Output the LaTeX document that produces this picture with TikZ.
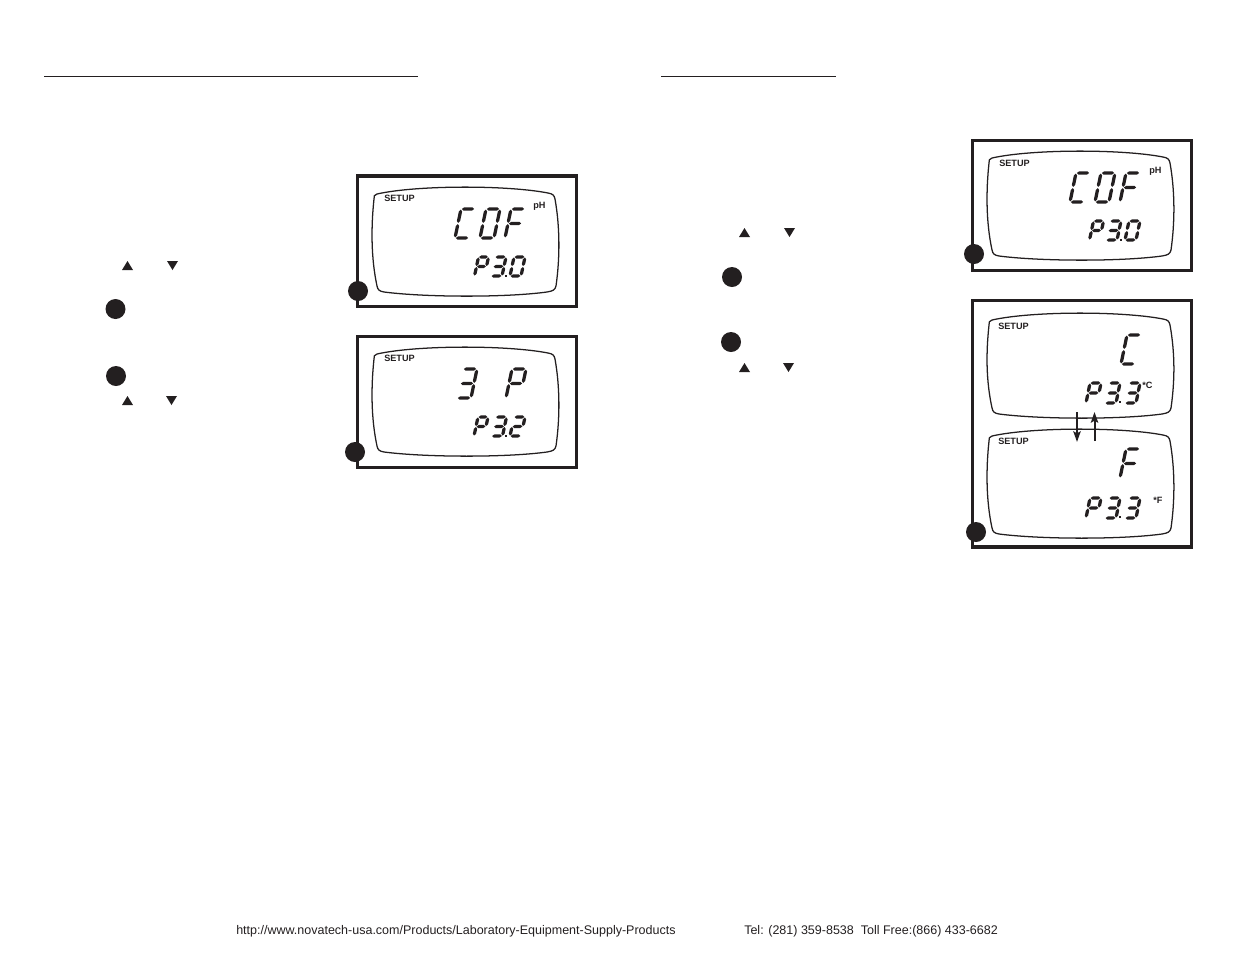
\documentclass[tikz,border=0pt]{standalone}
\usepackage{fontspec}
\setmainfont{Liberation Sans}
\definecolor{ink}{HTML}{231F20}
\newcommand{\hseg}[3]{\fill[lcdseg] (#1,#3) -- (#1+.6*\tx,#3+\ty/2) -- (#2-.6*\tx,#3+\ty/2) -- (#2,#3) -- (#2-.6*\tx,#3-\ty/2) -- (#1+.6*\tx,#3-\ty/2) -- cycle;}
\newcommand{\vseg}[3]{\fill[lcdseg] (#1,#2) -- (#1+\tx/2,#2+.6*\ty) -- (#1+\tx/2,#3-.6*\ty) -- (#1,#3) -- (#1-\tx/2,#3-.6*\ty) -- (#1-\tx/2,#2+.6*\ty) -- cycle;}
\newcommand{\sega}{\hseg{.06}{.94}{1}}
\newcommand{\segb}{\vseg{1}{.52}{.98}}
\newcommand{\segc}{\vseg{1}{.02}{.48}}
\newcommand{\segd}{\hseg{.06}{.94}{0}}
\newcommand{\sege}{\vseg{0}{.02}{.48}}
\newcommand{\segf}{\vseg{0}{.52}{.98}}
\newcommand{\segg}{\hseg{.06}{.94}{.5}}
\newcommand{\lcdglyph}[6]{%
  \begin{scope}[shift={(#1,#2)},x={(#3*0.75pt,0pt)},y={(#5*0.75pt,#4*0.75pt)}]
    \pgfmathsetmacro{\tx}{3.3/#3}\pgfmathsetmacro{\ty}{3.3/#4}
    \foreach \s in #6 {\csname seg\s\endcsname}
  \end{scope}}
\newcommand{\lcdframe}[3]{%
  \draw[lcdline] (#1+20,#2+7) .. controls (#1+60,#2-2) and (#1+150,#2-2) .. (#1+191,#2+6)
    .. controls (#1+196,#2+7) and (#1+197,#2+8) .. (#1+198,#2+12)
    .. controls (#1+203,#2+40) and (#1+203,#3-38) .. (#1+199,#3-10)
    .. controls (#1+198,#3-6) and (#1+196,#3-5) .. (#1+190,#3-4)
    .. controls (#1+150,#3+1.5) and (#1+70,#3+1.5) .. (#1+27,#3-4)
    .. controls (#1+22,#3-5) and (#1+21,#3-6) .. (#1+20,#3-10)
    .. controls (#1+14,#3-38) and (#1+14,#2+40) .. (#1+17,#2+12)
    .. controls (#1+17,#2+9) and (#1+17,#2+8) .. cycle;}
\newcommand{\bigC}{a,f,e,d}\newcommand{\bigO}{a,b,c,d,e,f}\newcommand{\bigF}{a,f,e,g}
\newcommand{\bigP}{a,b,f,e,g}\newcommand{\bigT}{a,b,c,d,g}\newcommand{\bigZ}{a,b,g,e,d}
\tikzset{
  lcdseg/.style={ink},
  lcdline/.style={ink,line width=0.95pt},
  panel/.style={ink,line width=2.4pt},
  rulel/.style={ink,line width=0.75pt},
  dot/.style={circle,fill=ink,inner sep=0pt,minimum size=15pt},
  tri/.style={fill=ink},
  setup/.style={inner sep=0pt,anchor=base west,font=\bfseries\fontsize{6.85pt}{7pt}\selectfont,text=ink},
  foot/.style={inner sep=0pt,anchor=base west,font=\fontsize{9.38pt}{11pt}\selectfont,text=ink},
  flip/.style={ink,line width=1.5pt,-{Stealth[length=8pt,width=5.5pt,inset=1.5pt]}}
}
\usetikzlibrary{arrows.meta}
\begin{document}
\begin{tikzpicture}[x=0.75pt,y=-0.75pt]
\useasboundingbox (0,0) rectangle (1235,954);
% header rules
\coordinate (r1a) at (44,76); \coordinate (r1b) at (418,76);
\coordinate (r2a) at (661,76); \coordinate (r2b) at (836,76);
\draw[rulel] (r1a) -- (r1b);
\draw[rulel] (r2a) -- (r2b);
% left column symbols
\fill[tri] (122,270) -- (127.5,261) -- (133,270) -- cycle;
\fill[tri] (167,261) -- (178,261) -- (172.5,270) -- cycle;
\node[dot] (dl1) at (115.5,309) {};
\node[dot] (dl2) at (116,376) {};
\fill[tri] (122,405) -- (127.5,396) -- (133,405) -- cycle;
\fill[tri] (166,396) -- (177,396) -- (171.5,405) -- cycle;
% right column symbols
\fill[tri] (739,237) -- (744.5,228) -- (750,237) -- cycle;
\fill[tri] (784,228) -- (795,228) -- (789.5,237) -- cycle;
\node[dot] (dr1) at (732,277) {};
\node[dot] (dr2) at (731,342) {};
\fill[tri] (739,372) -- (744.5,363) -- (750,372) -- cycle;
\fill[tri] (783,363) -- (794,363) -- (788.5,372) -- cycle;
% panel 1
\draw[panel] (357.5,176) rectangle (576.5,306.5);
\lcdframe{357}{187}{296}
\node[setup] (s1) at (384,201) {SETUP};
\node[setup] (u1) at (533,208.5) {pH};
\lcdglyph{455}{238}{14}{29}{6}{\bigC}
\lcdglyph{480}{238}{14}{29}{6}{\bigO}
\lcdglyph{505}{238}{14}{29}{6}{\bigF}
\lcdglyph{474.5}{276}{10}{19}{4}{\bigP}
\lcdglyph{491}{276}{11}{19}{4}{\bigT}
\lcdglyph{510}{276}{11}{19}{4}{\bigO}
\fill[ink] (505,275) rectangle +(2,2);
\node[dot] (d1) at (358,291) {};
% panel 2
\draw[panel] (357.5,336.5) rectangle (576.5,467.5);
\lcdframe{357}{347}{456}
\node[setup] (s2) at (384,361) {SETUP};
\lcdglyph{457}{398}{14}{29}{6}{\bigT}
\lcdglyph{506}{398}{14}{29}{6}{\bigP}
\lcdglyph{474}{436}{10}{19}{4}{\bigP}
\lcdglyph{491.5}{436}{11}{19}{4}{\bigT}
\lcdglyph{510}{436}{11}{19}{4}{\bigZ}
\fill[ink] (505,435) rectangle +(2,2);
\node[dot] (d2) at (355,452) {};
% panel 3
\draw[panel] (972.5,140.5) rectangle (1191.5,270.5);
\lcdframe{972}{151}{260}
\node[setup] (s3) at (999,166) {SETUP};
\node[setup] (u3) at (1149,173.5) {pH};
\lcdglyph{1070}{202}{14}{29}{6}{\bigC}
\lcdglyph{1095}{202}{14}{29}{6}{\bigO}
\lcdglyph{1120}{202}{14}{29}{6}{\bigF}
\lcdglyph{1089.5}{240}{10}{19}{4}{\bigP}
\lcdglyph{1106}{240}{11}{19}{4}{\bigT}
\lcdglyph{1125}{240}{11}{19}{4}{\bigO}
\fill[ink] (1120,239) rectangle +(2,2);
\node[dot] (d3) at (974,254) {};
% panel 4
\draw[panel] (972.5,300.5) rectangle (1191.5,547);
\lcdframe{972}{313}{418}
\lcdframe{972}{429}{538}
\node[setup] (s4) at (998,329.5) {SETUP};
\node[setup] (s5) at (998,444.5) {SETUP};
\lcdglyph{1121}{364}{14}{29}{6}{\bigC}
\lcdglyph{1120}{478}{14}{29}{6}{\bigF}
\lcdglyph{1086}{403}{11}{20}{4}{\bigP}
\lcdglyph{1105}{403}{11}{20}{4}{\bigT}
\lcdglyph{1125}{403}{11}{20}{4}{\bigT}
\fill[ink] (1119,401) rectangle +(2,2);
\lcdglyph{1086}{518}{11}{20}{4}{\bigP}
\lcdglyph{1105}{518}{11}{20}{4}{\bigT}
\lcdglyph{1125}{518}{11}{20}{4}{\bigT}
\fill[ink] (1119,516) rectangle +(2,2);
\node[setup] (u4) at (1142,388) {*C};
\node[setup] (u5) at (1153,503) {*F};
\coordinate (fd1) at (1077,412); \coordinate (fd2) at (1077,442);
\coordinate (fu1) at (1094.5,441); \coordinate (fu2) at (1094.5,412);
\draw[flip] (fd1) -- (fd2);
\draw[flip] (fu1) -- (fu2);
\node[dot] (d4) at (976,532) {};
% footer
\node[foot] (f1) at (236,934.3) {http://www.novatech-usa.com/Products/Laboratory-Equipment-Supply-Products};
\node[foot] (f2) at (744,934.3) {Tel: (281) 359-8538\ \ Toll Free:(866) 433-6682};
\end{tikzpicture}
\end{document}
